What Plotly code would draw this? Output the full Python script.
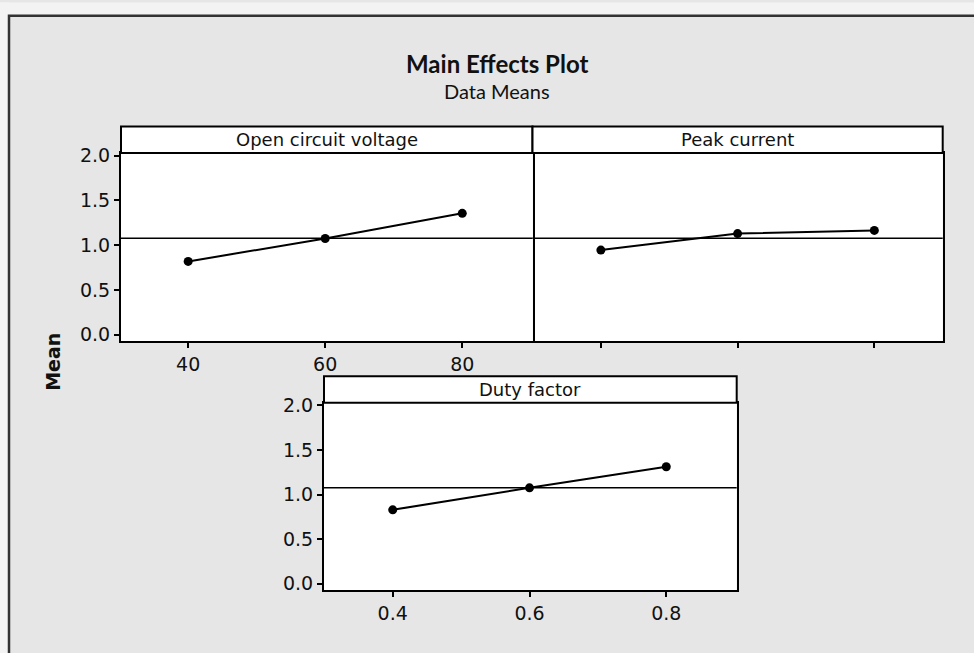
import plotly.graph_objects as go

W, H = 974, 653

# ---- data ----
ocv_levels = [40, 60, 80]
ocv_means = [0.818, 1.074, 1.356]
pc_levels = [1, 2, 3]
pc_means = [0.945, 1.129, 1.165]
df_levels = [0.4, 0.6, 0.8]
df_means = [0.829, 1.076, 1.312]
grand_mean = 1.077
panel_titles = ["Open circuit voltage", "Peak current", "Duty factor"]
y_ticks = [0.0, 0.5, 1.0, 1.5, 2.0]
y_ticklabels = ["0.0", "0.5", "1.0", "1.5", "2.0"]
ocv_ticklabels = ["40", "60", "80"]
df_ticklabels = ["0.4", "0.6", "0.8"]

FONT = "DejaVu Sans"
BG = "#e6e6e6"

def px_x(a, b):
    return [a / W, b / W]

def px_y(top, bottom):
    return [1 - bottom / H, 1 - top / H]

fig = go.Figure()

series = [
    (ocv_levels, ocv_means, "x", "y"),
    (pc_levels, pc_means, "x2", "y2"),
    (df_levels, df_means, "x3", "y3"),
]
for xs, ys, xa, ya in series:
    fig.add_trace(go.Scatter(
        x=xs, y=ys, xaxis=xa, yaxis=ya, mode="lines+markers",
        line=dict(color="black", width=2),
        marker=dict(color="black", size=9),
        showlegend=False, hoverinfo="skip",
    ))

yrange = [-0.075, 2.03]
axis_common = dict(linecolor="black", linewidth=2, mirror=True,
                   showgrid=False, zeroline=False,
                   tickfont=dict(family=FONT, size=19, color="#111"),
                   tickcolor="black", ticklen=5, tickwidth=1.5)

HDR = 27  # header height px
p1 = dict(x=(121, 532.5), y=(147, 339))
p2 = dict(x=(532.5, 942.7), y=(147, 339))
p3 = dict(x=(324, 736.7), y=(401.7, 593.3))

fig.update_layout(
    width=W, height=H, margin=dict(l=0, r=0, t=0, b=0),
    paper_bgcolor=BG, plot_bgcolor="white",
    xaxis=dict(domain=px_x(*p1["x"]), range=[30.2, 90.25], tickvals=ocv_levels,
               ticktext=ocv_ticklabels, ticks="outside", anchor="y", showline=True, **axis_common),
    yaxis=dict(domain=px_y(*p1["y"]), range=yrange, tickvals=y_ticks,
               ticktext=y_ticklabels, ticks="outside", anchor="x", showline=True, **axis_common),
    xaxis2=dict(domain=px_x(*p2["x"]), range=[0.5, 3.5], tickvals=pc_levels,
                showticklabels=False, ticks="outside", anchor="y2", showline=True, **axis_common),
    yaxis2=dict(domain=px_y(*p2["y"]), range=yrange, tickvals=y_ticks, side="right",
                showticklabels=False, ticks="", anchor="x2", showline=True, **{**axis_common, "mirror": False}),
    xaxis3=dict(domain=px_x(*p3["x"]), range=[0.2995, 0.903], tickvals=df_levels,
                ticktext=df_ticklabels, ticks="outside", anchor="y3", showline=True, **axis_common),
    yaxis3=dict(domain=px_y(*p3["y"]), range=yrange, tickvals=y_ticks,
                ticktext=y_ticklabels, ticks="outside", anchor="x3", showline=True, **axis_common),
)

shapes = []
annotations = []

# light strips outside the frame
shapes.append(dict(type="rect", xref="paper", yref="paper", x0=-0.01, x1=1.01,
                   y0=1 - 7 / H, y1=1.01, fillcolor="#f3f3f3", line=dict(width=0), layer="below"))
shapes.append(dict(type="rect", xref="paper", yref="paper", x0=-0.01, x1=9 / W,
                   y0=-0.01, y1=1.01, fillcolor="#f3f3f3", line=dict(width=0), layer="below"))
# outer frame
shapes.append(dict(type="rect", xref="paper", yref="paper",
                   x0=9 / W, x1=1.05, y0=-0.05, y1=1 - 7 / H,
                   line=dict(color="#333", width=2.5), fillcolor="rgba(0,0,0,0)", layer="below"))

panels = [("x", "y", p1), ("x2", "y2", p2), ("x3", "y3", p3)]
for (xa, ya, p), title in zip(panels, panel_titles):
    h = p["y"][1] - p["y"][0]
    shapes.append(dict(type="line", xref=f"{xa} domain", yref=ya,
                       x0=0, x1=1, y0=grand_mean, y1=grand_mean,
                       line=dict(color="black", width=1.5), layer="below"))
    shapes.append(dict(type="rect", xref=f"{xa} domain", yref=f"{ya} domain",
                       x0=0, x1=1, y0=1, y1=1 + HDR / h,
                       fillcolor="white", line=dict(color="black", width=2), layer="above"))
    annotations.append(dict(text=title, xref=f"{xa} domain", yref=f"{ya} domain",
                            x=0.5, y=1 + (HDR / 2) / h, xanchor="center", yanchor="middle",
                            showarrow=False, font=dict(family=FONT, size=18, color="#111")))

annotations += [
    dict(text="<b>Main Effects Plot</b>", xref="paper", yref="paper", x=497 / W, y=1 - 56 / H,
         xanchor="center", yanchor="middle", showarrow=False,
         font=dict(family="Lato", size=24, color="#111")),
    dict(text="Data Means", xref="paper", yref="paper", x=497 / W, y=1 - 84 / H,
         xanchor="center", yanchor="middle", showarrow=False,
         font=dict(family="Lato", size=20, color="#111")),
    dict(text="<b>Mean</b>", xref="paper", yref="paper", x=53 / W, y=1 - 360 / H,
         xanchor="center", yanchor="middle", showarrow=False, textangle=-90,
         font=dict(family=FONT, size=19, color="#111")),
]

fig.update_layout(shapes=shapes, annotations=annotations)
fig.write_html("out.html")
